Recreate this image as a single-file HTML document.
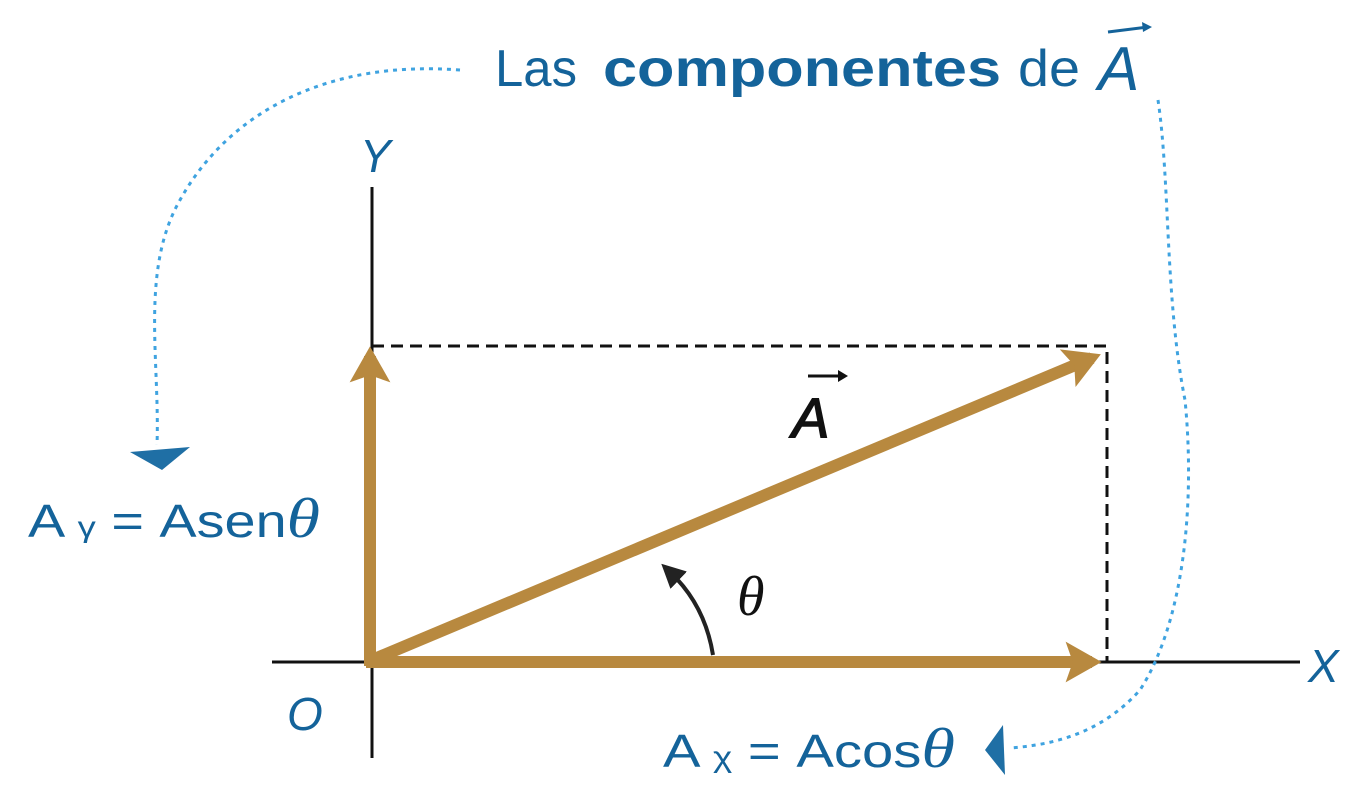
<!DOCTYPE html>
<html><head><meta charset="utf-8"><style>
html,body{margin:0;padding:0;background:#fff;width:1368px;height:804px;overflow:hidden}
svg{display:block}
.blue{fill:#14639a;font-family:"Liberation Sans",sans-serif}
</style></head><body>
<svg width="1368" height="804" viewBox="0 0 1368 804">
<defs>
<marker id="gold" markerWidth="4" markerHeight="4" refX="2.2" refY="2" orient="auto" markerUnits="strokeWidth"><path d="M0,0.3 L3,2 L0,3.7 L0.6,2 Z" fill="#b8893f"/></marker>
<marker id="blk" markerWidth="6" markerHeight="6" refX="3" refY="3" orient="auto" markerUnits="strokeWidth"><path d="M0,0 L6,3 L0,6 Z" fill="#222"/></marker>
</defs>
<g>
<text class="blue" x="495" y="86" font-size="52" textLength="82" lengthAdjust="spacingAndGlyphs">Las</text>
<text class="blue" x="603" y="86" font-size="52" font-weight="bold" textLength="398" lengthAdjust="spacingAndGlyphs">componentes</text>
<text class="blue" x="1018" y="86" font-size="52" textLength="62" lengthAdjust="spacingAndGlyphs">de</text>
<text class="blue" x="1098" y="90" font-size="62" font-style="italic">A</text>
</g>
<line x1="1108" y1="32" x2="1148" y2="27" stroke="#14639a" stroke-width="3"/>
<path d="M1142,22 L1152,27 L1143,32 Z" fill="#14639a"/>
<line x1="372" y1="187" x2="372" y2="758" stroke="#111" stroke-width="3"/>
<line x1="272" y1="662" x2="1300" y2="662" stroke="#111" stroke-width="3"/>
<text class="blue" x="360" y="172" font-size="46" font-style="italic">Y</text>
<text class="blue" x="1308" y="682" font-size="46" font-style="italic">X</text>
<text class="blue" x="287" y="730" font-size="46" font-style="italic">O</text>
<path d="M372,346 H1107 V662" fill="none" stroke="#111" stroke-width="3" stroke-dasharray="12,7"/>
<line x1="372" y1="660" x2="1092" y2="358" stroke="#b8893f" stroke-width="12" marker-end="url(#gold)"/>
<line x1="366" y1="662" x2="1092" y2="662" stroke="#b8893f" stroke-width="12" marker-end="url(#gold)"/>
<line x1="370" y1="666" x2="370" y2="356" stroke="#b8893f" stroke-width="12" marker-end="url(#gold)"/>
<text x="792" y="437" font-size="56" font-style="italic" font-family="Liberation Sans,sans-serif" fill="#111" stroke="#111" stroke-width="1.5">A</text>
<line x1="808" y1="376" x2="842" y2="376" stroke="#111" stroke-width="3"/>
<path d="M838,370 L848,376 L838,382 Z" fill="#111"/>
<path d="M713,655 Q705,605 670,572" fill="none" stroke="#222" stroke-width="4" marker-end="url(#blk)"/>
<text x="737" y="615" font-size="56" font-style="italic" font-family="Liberation Serif,serif" fill="#111">θ</text>
<text class="blue" x="28" y="537" font-size="46" textLength="292" lengthAdjust="spacingAndGlyphs">A <tspan font-size="30">γ</tspan> = Asen<tspan font-style="italic" font-family="Liberation Serif,serif" font-size="56">θ</tspan></text>
<text class="blue" x="663" y="767" font-size="46" textLength="292" lengthAdjust="spacingAndGlyphs">A <tspan font-size="30">χ</tspan> = Acos<tspan font-style="italic" font-family="Liberation Serif,serif" font-size="56">θ</tspan></text>
<path d="M460,70 C330,60 230,110 180,200 C140,270 160,360 157,445" fill="none" stroke="#3fa3e0" stroke-width="3" stroke-dasharray="4,5"/>
<path d="M130,452 L190,447 L162,470 Z" fill="#1f6fa5"/>
<path d="M1158,100 C1170,180 1165,300 1185,400 C1195,500 1185,620 1140,690 C1100,735 1050,745 1010,748" fill="none" stroke="#3fa3e0" stroke-width="3" stroke-dasharray="4,5"/>
<path d="M1003,725 L985,750 L1005,775 Z" fill="#1f6fa5"/>
</svg>
</body></html>
